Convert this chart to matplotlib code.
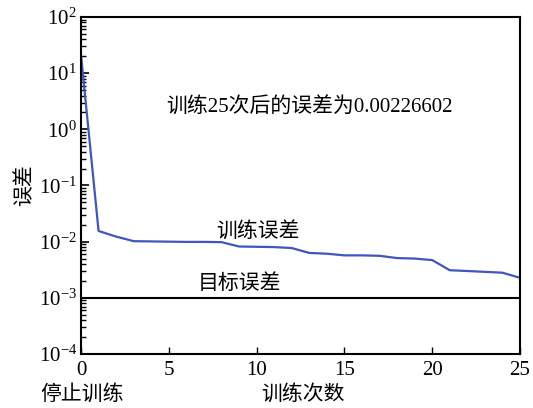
import matplotlib
matplotlib.use("Agg")
import matplotlib.pyplot as plt
from matplotlib.ticker import FixedLocator, NullFormatter

plt.rcParams['font.family'] = ['Liberation Serif', 'Noto Sans CJK SC']
plt.rcParams['mathtext.fontset'] = 'custom'
plt.rcParams['mathtext.rm'] = 'Liberation Serif'
plt.rcParams['mathtext.it'] = 'Liberation Serif:italic'
plt.rcParams['axes.unicode_minus'] = True

epochs = list(range(26))
train_err = [21, 0.0155, 0.0123, 0.0102, 0.0101, 0.0100, 0.0099, 0.0099, 0.0098,
             0.0082, 0.0081, 0.0080, 0.0077, 0.0063, 0.0061, 0.0057, 0.0057, 0.0056,
             0.0051, 0.0050, 0.0047, 0.0031, 0.0030, 0.0029, 0.0028, 0.00227]
goal = 1e-3
x_ticks = [0, 5, 10, 15, 20, 25]
y_decades = [-4, -3, -2, -1, 0, 1, 2]

fig = plt.figure(figsize=(5.33, 4.08), dpi=100)
ax = fig.add_axes([0.152, 0.1324, 0.8236, 0.8259])

ax.plot(epochs, train_err, color='#3f55c0', lw=1.6)
ax.axhline(goal, color='black', lw=1.5)
ax.set_yscale('log')
ax.set_xlim(0, 25)
ax.set_ylim(1e-4, 1e2)
ax.set_xticks(x_ticks)
ax.yaxis.set_major_locator(FixedLocator([10.0**d for d in y_decades]))
minor = [m * 10.0**d for d in y_decades[:-1] for m in range(2, 10)]
ax.yaxis.set_minor_locator(FixedLocator(minor))
ax.yaxis.set_minor_formatter(NullFormatter())
ax.tick_params(axis='both', which='both', direction='in', top=False, right=False)
ax.tick_params(axis='both', which='major', labelsize=15)
ax.tick_params(axis='y', which='major', length=6, width=1.2, pad=3)
ax.tick_params(axis='y', which='minor', length=3.5, width=1.0)
ax.tick_params(axis='x', which='minor', bottom=False)
ax.tick_params(axis='x', which='major', length=5, width=1, pad=5)
for s in ax.spines.values():
    s.set_linewidth(1.5)

cjk = ['Noto Sans CJK SC']
ax.text(13.0, 10**(2 - (108-17)/56.2), '训练25次后的误差为0.00226602', fontsize=15,
        ha='center', va='center', family=['Liberation Serif', 'Noto Sans CJK SC'])
ax.text(10.1, 10**(2 - (232-17)/56.2), '训练误差', fontsize=15, ha='center', va='center',
        family=cjk)
ax.text(9.0, 10**(2 - (283-17)/56.2), '目标误差', fontsize=15, ha='center', va='center',
        family=cjk)
ax.set_ylabel('误差', fontsize=15, family=cjk, labelpad=2)
fig.text(82/533, 1-394/408, '停止训练', fontsize=15, family=cjk, ha='center', va='center')
fig.text(303/533, 1-394/408, '训练次数', fontsize=15, family=cjk, ha='center', va='center')

fig.savefig('out.png', dpi=100)
